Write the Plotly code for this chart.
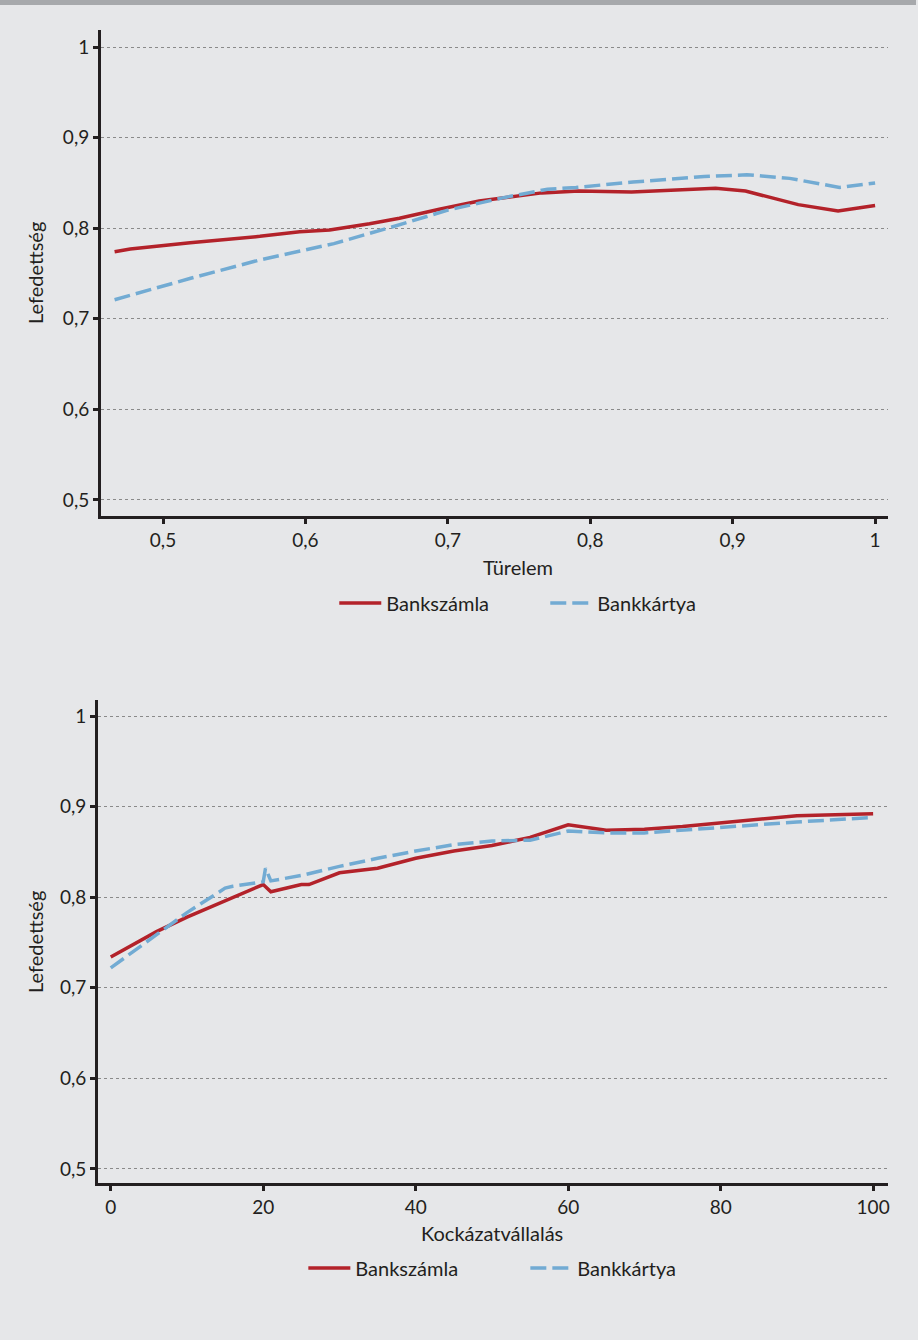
import plotly.graph_objects as go

# ---- data: top chart (Türelem) ----
tur_x_szamla = [0.466, 0.477, 0.519, 0.568, 0.596, 0.617, 0.645, 0.666, 0.694, 0.722,
                0.766, 0.792, 0.829, 0.888, 0.909, 0.946, 0.974, 1.0]
tur_y_szamla = [0.774, 0.777, 0.784, 0.791, 0.796, 0.798, 0.805, 0.811, 0.821, 0.830,
                0.839, 0.841, 0.840, 0.844, 0.841, 0.826, 0.819, 0.825]
tur_x_kartya = [0.466, 0.52, 0.568, 0.62, 0.66, 0.70, 0.74, 0.77, 0.79, 0.83,
                0.88, 0.91, 0.94, 0.975, 1.0]
tur_y_kartya = [0.721, 0.745, 0.765, 0.783, 0.801, 0.820, 0.834, 0.843, 0.845, 0.851,
                0.857, 0.859, 0.855, 0.845, 0.850]

# ---- data: bottom chart (Kockázatvállalás) ----
kock_x_szamla = [0, 5, 6, 10, 15, 20, 21, 25, 26, 30, 35, 40, 45, 50, 55, 60,
                 65, 70, 75, 80, 85, 90, 100]
kock_y_szamla = [0.734, 0.757, 0.762, 0.778, 0.796, 0.814, 0.806, 0.814, 0.814, 0.827,
                 0.832, 0.843, 0.851, 0.857, 0.866, 0.880, 0.874, 0.875, 0.878, 0.882,
                 0.886, 0.890, 0.892]
kock_x_kartya = [0, 5, 10, 15, 16, 20, 20.3, 21, 25, 30, 35, 40, 45, 50, 55, 60,
                 65, 70, 75, 80, 90, 100]
kock_y_kartya = [0.722, 0.753, 0.783, 0.810, 0.812, 0.817, 0.832, 0.818, 0.824, 0.834,
                 0.843, 0.851, 0.858, 0.862, 0.863, 0.873, 0.871, 0.871, 0.874, 0.877,
                 0.883, 0.888]

y_ticks = [0.5, 0.6, 0.7, 0.8, 0.9, 1.0]
y_ticktext = ["0,5", "0,6", "0,7", "0,8", "0,9", "1"]
tur_ticks = [0.5, 0.6, 0.7, 0.8, 0.9, 1.0]
tur_ticktext = ["0,5", "0,6", "0,7", "0,8", "0,9", "1"]
kock_ticks = [0, 20, 40, 60, 80, 100]

names = ["Bankszámla", "Bankkártya"]

RED = "#b3222a"
BLUE = "#72abd3"
DARK = "#231f20"
BG = "#e6e7e9"
FONT = "Lato, Open Sans, sans-serif"
FS_TICK = 19
FS = 20
DASH = "16px,6px"

W, H = 918, 1340

fig = go.Figure()
fig.add_trace(go.Scatter(x=tur_x_szamla, y=tur_y_szamla, mode="lines", name=names[0],
                         line=dict(color=RED, width=3.5), xaxis="x", yaxis="y", legend="legend"))
fig.add_trace(go.Scatter(x=tur_x_kartya, y=tur_y_kartya, mode="lines", name=names[1],
                         line=dict(color=BLUE, width=3.5, dash=DASH), xaxis="x", yaxis="y", legend="legend"))
fig.add_trace(go.Scatter(x=kock_x_szamla, y=kock_y_szamla, mode="lines", name=names[0],
                         line=dict(color=RED, width=3.5), xaxis="x2", yaxis="y2", legend="legend2"))
fig.add_trace(go.Scatter(x=kock_x_kartya, y=kock_y_kartya, mode="lines", name=names[1],
                         line=dict(color=BLUE, width=3.5, dash=DASH), xaxis="x2", yaxis="y2", legend="legend2"))

def px_x(p):
    return p / W

def px_y(p):
    return 1 - p / H

axis_common = dict(showline=True, linecolor=DARK, linewidth=2.5, ticks="outside",
                   tickcolor=DARK, tickwidth=2.5, ticklen=5, zeroline=False,
                   tickfont=dict(family=FONT, size=FS_TICK, color=DARK))
yaxis_common = dict(axis_common, showgrid=True, gridcolor="#8a8a8a", gridwidth=1.2,
                    griddash="dot", tickvals=y_ticks, ticktext=y_ticktext)

def ann(text, x, y, angle=0):
    return dict(text=text, xref="paper", yref="paper", x=px_x(x), y=px_y(y),
                xanchor="center", yanchor="middle", textangle=angle, showarrow=False,
                font=dict(family=FONT, size=FS, color=DARK))

fig.update_layout(
    width=W, height=H,
    margin=dict(l=0, r=0, t=0, b=0),
    paper_bgcolor=BG, plot_bgcolor=BG,
    font=dict(family=FONT, size=FS, color=DARK),
    xaxis=dict(axis_common, domain=[px_x(101), px_x(890)], range=[0.4563, 1.0091],
               tickvals=tur_ticks, ticktext=tur_ticktext, showgrid=False, anchor="y"),
    yaxis=dict(yaxis_common, domain=[px_y(516), px_y(30)], range=[0.4823, 1.0188], anchor="x"),
    xaxis2=dict(axis_common, domain=[px_x(98), px_x(890)], range=[-1.7, 101.96],
                tickvals=kock_ticks, showgrid=False, anchor="y2"),
    yaxis2=dict(yaxis_common, domain=[px_y(1183), px_y(700)], range=[0.4845, 1.0177], anchor="x2"),
    legend=dict(orientation="h", x=px_x(335), y=px_y(603), xanchor="left", yanchor="middle",
                bgcolor="rgba(0,0,0,0)", itemwidth=42, entrywidth=154, entrywidthmode="pixels",
                font=dict(family=FONT, size=FS, color=DARK)),
    legend2=dict(orientation="h", x=px_x(304), y=px_y(1268), xanchor="left", yanchor="middle",
                 bgcolor="rgba(0,0,0,0)", itemwidth=42, entrywidth=165, entrywidthmode="pixels",
                 font=dict(family=FONT, size=FS, color=DARK)),
    shapes=[dict(type="rect", xref="paper", yref="paper", x0=0, x1=1, y0=px_y(5), y1=1,
                 fillcolor="#a7a9ac", line=dict(width=0), layer="below")],
    annotations=[
        ann("Lefedettség", 35, 273, -90),
        ann("Türelem", 519, 567),
        ann("Lefedettség", 35, 942, -90),
        ann("Kockázatvállalás", 493, 1233),
    ],
)

fig.write_html("out.html", post_script="document.body.style.margin='0';",
               config={"displayModeBar": False})
